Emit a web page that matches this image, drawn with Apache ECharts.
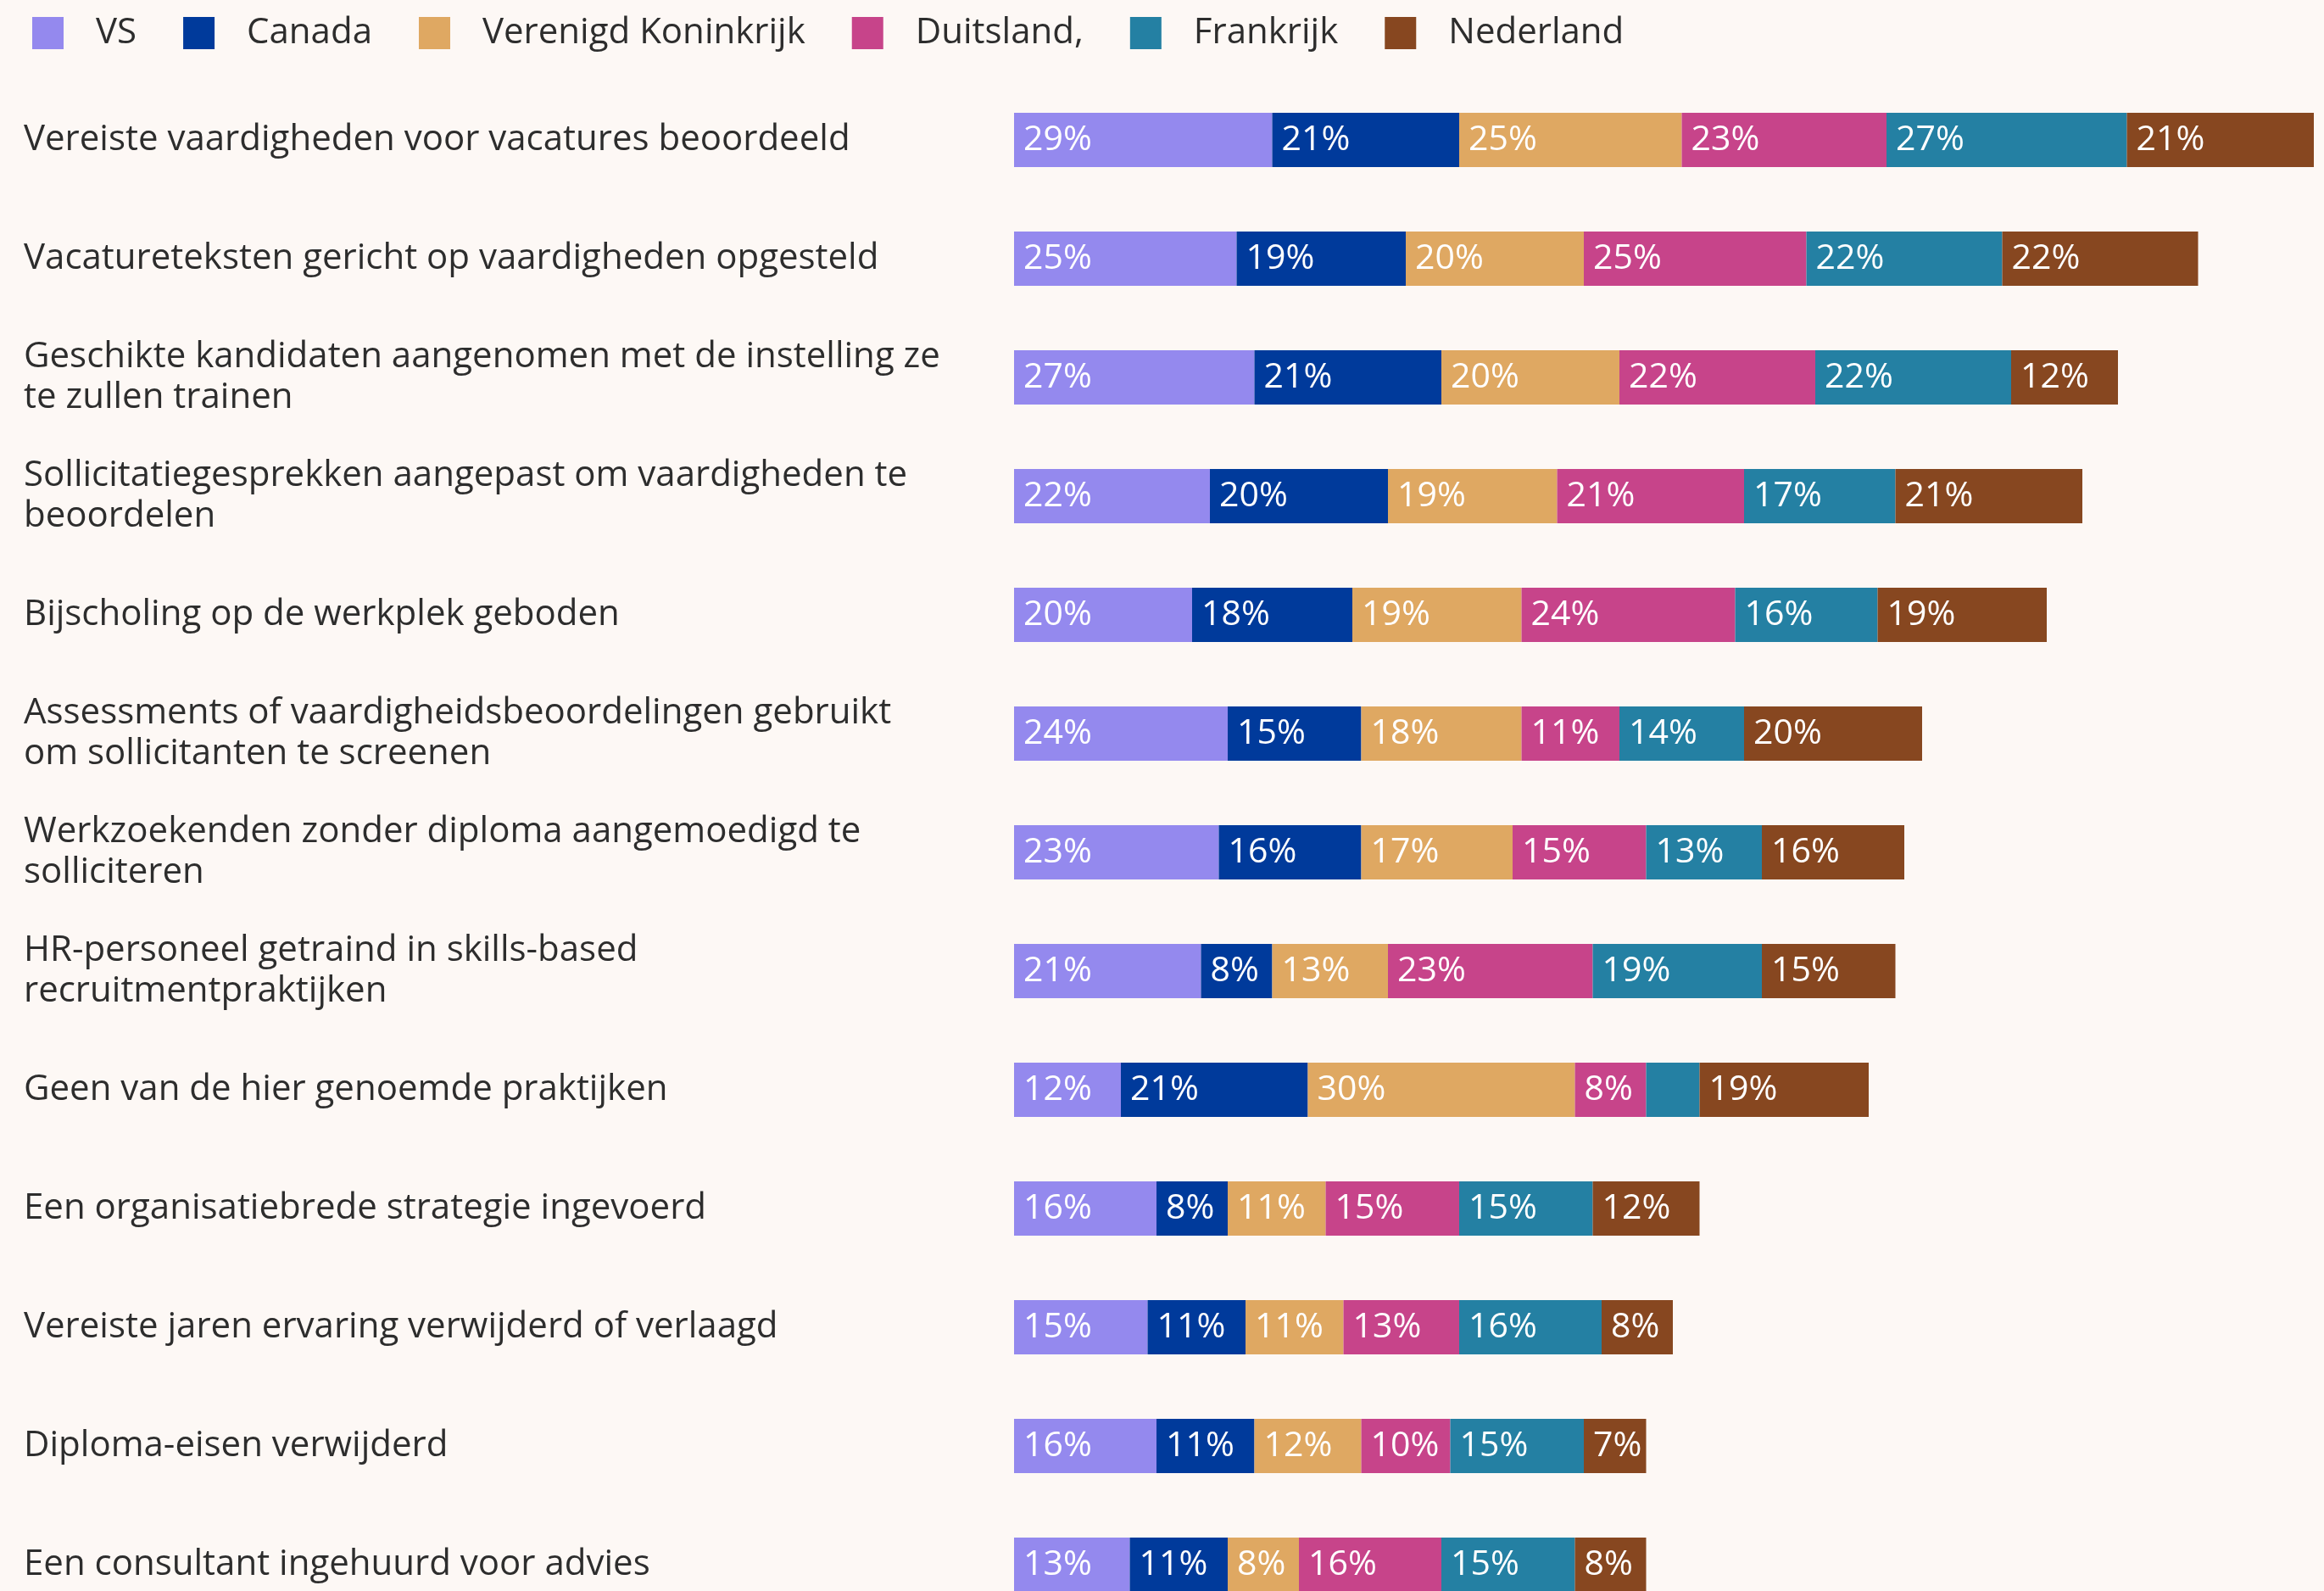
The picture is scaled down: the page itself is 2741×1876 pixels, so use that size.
<!DOCTYPE html>
<html>
<head>
<meta charset="utf-8">
<script src="https://cdn.jsdelivr.net/npm/echarts@6/dist/echarts.min.js"></script>
<style>
  html, body { margin: 0; padding: 0; background: #fdf8f5; }
  #chart { width: 2741px; height: 1876px; }
</style>
</head>
<body>
<div id="chart"></div>
<script>
const categories = [
  "Vereiste vaardigheden voor vacatures beoordeeld",
  "Vacatureteksten gericht op vaardigheden opgesteld",
  "Geschikte kandidaten aangenomen met de instelling ze te zullen trainen",
  "Sollicitatiegesprekken aangepast om vaardigheden te beoordelen",
  "Bijscholing op de werkplek geboden",
  "Assessments of vaardigheidsbeoordelingen gebruikt om sollicitanten te screenen",
  "Werkzoekenden zonder diploma aangemoedigd te solliciteren",
  "HR-personeel getraind in skills-based recruitmentpraktijken",
  "Geen van de hier genoemde praktijken",
  "Een organisatiebrede strategie ingevoerd",
  "Vereiste jaren ervaring verwijderd of verlaagd",
  "Diploma-eisen verwijderd",
  "Een consultant ingehuurd voor advies"
];

const countries = ["VS", "Canada", "Verenigd Koninkrijk", "Duitsland,", "Frankrijk", "Nederland"];
const colors = ["#9489ee", "#003a9b", "#dfa862", "#c7448a", "#2480a3", "#874720"];

const vs        = [29, 25, 27, 22, 20, 24, 23, 21, 12, 16, 15, 16, 13];
const canada    = [21, 19, 21, 20, 18, 15, 16,  8, 21,  8, 11, 11, 11];
const uk        = [25, 20, 20, 19, 19, 18, 17, 13, 30, 11, 11, 12,  8];
const germany   = [23, 25, 22, 21, 24, 11, 15, 23,  8, 15, 13, 10, 16];
const france    = [27, 22, 22, 17, 16, 14, 13, 19,  6, 15, 16, 15, 15];
const nederland = [21, 22, 12, 21, 19, 20, 16, 15, 19, 12,  8,  7,  8];

const seriesValues = [vs, canada, uk, germany, france, nederland];

const chart = echarts.init(document.getElementById("chart"));
const font = "Open Sans";

const option = {
  backgroundColor: "#fdf8f5",
  textStyle: { fontFamily: font },
  legend: {
    left: 33,
    top: 13,
    itemWidth: 37,
    itemHeight: 38,
    itemGap: 55,
    icon: "rect",
    textStyle: {
      fontFamily: font,
      fontSize: 42,
      color: "#2d2d2d",
      padding: [0, 0, 0, 33]
    },
    data: countries
  },
  grid: {
    left: 1196,
    top: 95,
    width: 1533,
    height: 1820,
    outerBoundsMode: "none"
  },
  xAxis: {
    type: "value",
    min: 0,
    max: 146,
    show: false
  },
  yAxis: {
    type: "category",
    inverse: true,
    data: categories,
    axisLine: { show: false },
    axisTick: { show: false },
    splitLine: { show: false },
    axisLabel: {
      align: "left",
      margin: 1168,
      fontFamily: font,
      fontSize: 42,
      lineHeight: 48,
      color: "#2d2d2d",
      width: 1095,
      overflow: "break"
    }
  },
  series: countries.map((name, i) => ({
    name: name,
    type: "bar",
    stack: "total",
    barWidth: 64,
    itemStyle: { color: colors[i] },
    label: {
      show: true,
      position: "insideLeft",
      distance: 11,
      color: "#ffffff",
      fontFamily: font,
      fontSize: 41,
      formatter: p => (p.value < 7 ? "" : p.value + "%")
    },
    data: seriesValues[i]
  }))
};

chart.setOption(option);
</script>
</body>
</html>
